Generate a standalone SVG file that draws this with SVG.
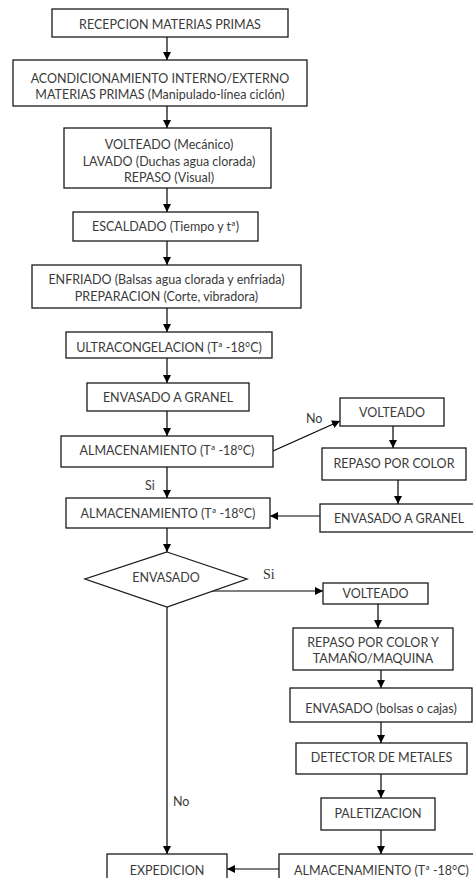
<svg xmlns="http://www.w3.org/2000/svg" width="473" height="878" viewBox="0 0 473 878">
<defs>
<marker id="ah" markerWidth="8" markerHeight="8" refX="8" refY="4" orient="auto" markerUnits="userSpaceOnUse">
<path d="M0,0 L8,4 L0,8 Z" fill="#000"/>
</marker>
<style>
rect, polygon { fill: #fff; stroke: #1a1a1a; stroke-width: 1.3; }
text { font-family: Lato, "Liberation Sans", sans-serif; font-size: 12.5px; fill: #3a3a3a; text-anchor: middle; }
text.lbl { text-anchor: start; }
text.serif { font-family: "Liberation Serif", serif; text-anchor: start; font-size: 14px; fill: #333; }
.con line { stroke: #000; stroke-width: 1.2; marker-end: url(#ah); }
</style>
</defs>
<rect x="0" y="0" width="473" height="878" style="fill:#fff;stroke:none"/>
<g id="connectors" class="con">
<line x1="167" y1="37" x2="167" y2="60"/>
<line x1="167" y1="106" x2="167" y2="128"/>
<line x1="167" y1="188" x2="167" y2="212"/>
<line x1="167" y1="241" x2="167" y2="265"/>
<line x1="167" y1="308" x2="167" y2="332"/>
<line x1="167" y1="358" x2="167" y2="383"/>
<line x1="167" y1="411" x2="167" y2="436"/>
<line x1="167" y1="467" x2="167" y2="498"/>
<line x1="167" y1="528" x2="167" y2="552"/>
<line x1="273" y1="451" x2="340" y2="421"/>
<line x1="393" y1="426" x2="393" y2="448"/>
<line x1="398" y1="480" x2="398" y2="504"/>
<line x1="320" y1="516" x2="270" y2="516"/>
<line x1="212" y1="591" x2="323" y2="591"/>
<line x1="378" y1="604" x2="378" y2="628"/>
<line x1="381" y1="670" x2="381" y2="688"/>
<line x1="381" y1="722" x2="381" y2="743"/>
<line x1="381" y1="774" x2="381" y2="798"/>
<line x1="381" y1="830" x2="381" y2="854"/>
<line x1="167" y1="607" x2="167" y2="854"/>
<line x1="279" y1="869" x2="227" y2="869"/>
<text class="lbl" x="145" y="490">Si</text>
<text class="lbl" x="306" y="423">No</text>
<text class="serif" x="263" y="579">Si</text>
<text class="lbl" x="173" y="806">No</text>
</g>
<g id="n1"><rect x="52" y="9" width="236" height="28"/><text x="170" y="29">RECEPCION MATERIAS PRIMAS</text></g>
<g id="n2"><rect x="13" y="60" width="294" height="46"/><text x="160" y="83">ACONDICIONAMIENTO INTERNO/EXTERNO</text><text x="160" y="99">MATERIAS PRIMAS (Manipulado-línea ciclón)</text></g>
<g id="n3"><rect x="64" y="128" width="207" height="60"/><text x="169" y="149">VOLTEADO (Mecánico)</text><text x="169" y="165.5">LAVADO (Duchas agua clorada)</text><text x="169" y="182">REPASO (Visual)</text></g>
<g id="n4"><rect x="73" y="212" width="185" height="29"/><text x="165.5" y="231">ESCALDADO (Tiempo y tª)</text></g>
<g id="n5"><rect x="32" y="265" width="269" height="43"/><text x="166.5" y="284">ENFRIADO (Balsas agua clorada y enfriada)</text><text x="166.5" y="301">PREPARACION (Corte, vibradora)</text></g>
<g id="n6"><rect x="66" y="332" width="206" height="26"/><text x="169" y="352">ULTRACONGELACION (Tª -18°C)</text></g>
<g id="n7"><rect x="87" y="383" width="162" height="28"/><text x="168" y="402">ENVASADO A GRANEL</text></g>
<g id="n8"><rect x="61" y="436" width="212" height="31"/><text x="167" y="455">ALMACENAMIENTO (Tª -18°C)</text></g>
<g id="n9"><rect x="66" y="498" width="204" height="30"/><text x="168" y="518">ALMACENAMIENTO (Tª -18°C)</text></g>
<g id="n10"><polygon points="167,552 247,579 167,607 85,579"/><text x="166" y="582">ENVASADO</text></g>
<g id="n11"><rect x="340" y="398" width="104" height="28"/><text x="392" y="417">VOLTEADO</text></g>
<g id="n12"><rect x="322" y="448" width="144" height="32"/><text x="394" y="468">REPASO POR COLOR</text></g>
<g id="n13"><rect x="320" y="504" width="158" height="28"/><text x="399" y="523">ENVASADO A GRANEL</text></g>
<g id="n14"><rect x="323" y="583" width="105" height="21"/><text x="375.5" y="598">VOLTEADO</text></g>
<g id="n15"><rect x="293" y="628" width="160" height="42"/><text x="373" y="647">REPASO POR COLOR Y</text><text x="373" y="663">TAMAÑO/MAQUINA</text></g>
<g id="n16"><rect x="290" y="688" width="182" height="34"/><text x="381" y="713">ENVASADO (bolsas o cajas)</text></g>
<g id="n17"><rect x="296" y="743" width="171" height="31"/><text x="381.5" y="762">DETECTOR DE METALES</text></g>
<g id="n18"><rect x="321" y="798" width="114" height="32"/><text x="378" y="818">PALETIZACION</text></g>
<g id="n19"><rect x="279" y="854" width="205" height="40"/><text x="381.5" y="875">ALMACENAMIENTO (Tª -18°C)</text></g>
<g id="n20"><rect x="107" y="854" width="120" height="40"/><text x="167" y="875">EXPEDICION</text></g>
</svg>
